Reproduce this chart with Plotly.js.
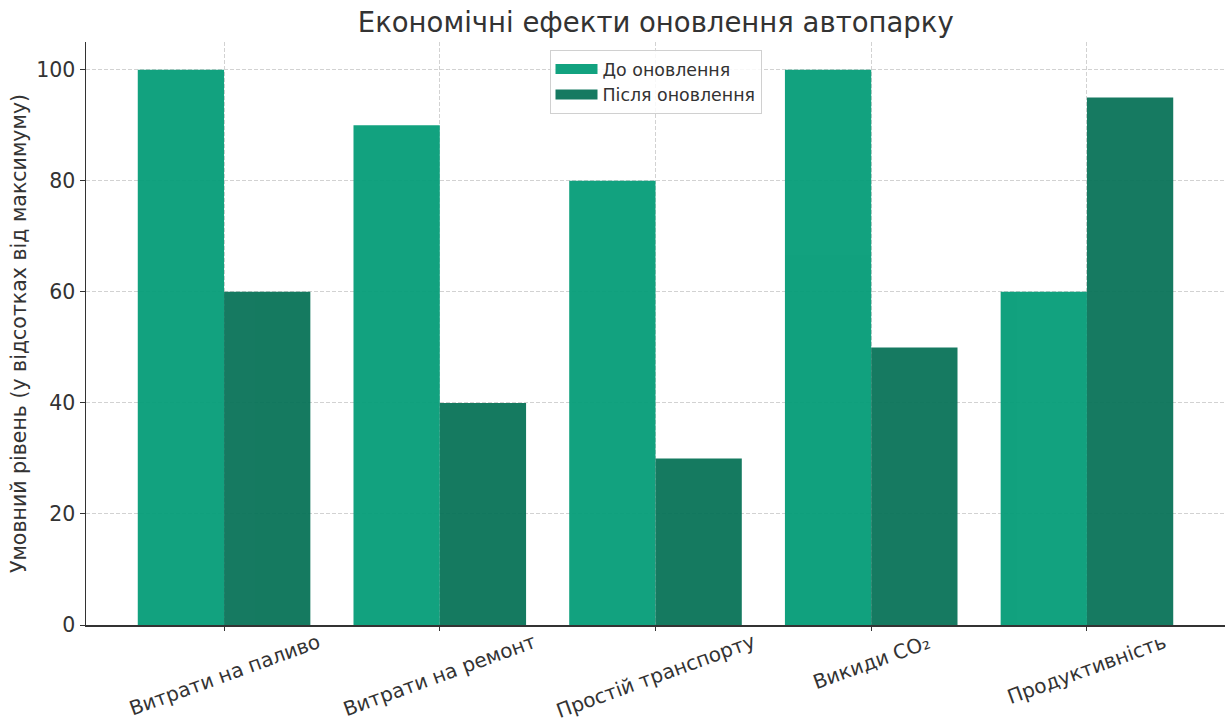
<!DOCTYPE html>
<html>
<head>
<meta charset="utf-8">
<script src="https://cdn.plot.ly/plotly-3.0.1.min.js"></script>
<style>html,body{margin:0;padding:0;background:#fff;}#chart{width:1228px;height:722px;}</style>
</head>
<body>
<div id="chart"></div>
<script>
const categories = ["Витрати на паливо", "Витрати на ремонт", "Простій транспорту", "Викиди CO₂", "Продуктивність"];
const beforeValues = [100, 90, 80, 100, 60];
const afterValues = [60, 40, 30, 50, 95];
const seriesNames = ["До оновлення", "Після оновлення"];
const yTicks = [0, 20, 40, 60, 80, 100];

const FONT = "DejaVu Sans, sans-serif";
const TXT = "#333333";
const C_BEFORE = "rgb(3,156,119)";
const C_AFTER = "rgb(7,114,87)";

const traces = [
  {type: "bar", x: categories, y: beforeValues, name: seriesNames[0], offset: -0.4, width: 0.4,
   opacity: 0.94, showlegend: false, marker: {color: C_BEFORE, line: {width: 0}}},
  {type: "bar", x: categories, y: afterValues, name: seriesNames[1], offset: 0, width: 0.4,
   opacity: 0.94, showlegend: false, marker: {color: C_AFTER, line: {width: 0}}},
  // legend entries (wide rectangle swatches)
  {type: "scatter", mode: "lines", x: [null], y: [null], name: seriesNames[0],
   opacity: 0.94, line: {color: C_BEFORE, width: 12}, hoverinfo: "skip"},
  {type: "scatter", mode: "lines", x: [null], y: [null], name: seriesNames[1],
   opacity: 0.94, line: {color: C_AFTER, width: 12}, hoverinfo: "skip"}
];

const annotations = categories.map(c => ({
  x: c, xref: "x", y: 0, yref: "paper", yshift: -3,
  text: c, showarrow: false, textangle: -20,
  xanchor: "center", yanchor: "top", borderpad: 0,
  font: {family: FONT, size: 20, color: TXT}
}));

const layout = {
  width: 1228, height: 722,
  margin: {l: 86, r: 3, t: 42, b: 97},
  paper_bgcolor: "#ffffff", plot_bgcolor: "#ffffff",
  font: {family: FONT, color: TXT},
  title: {text: "Економічні ефекти оновлення автопарку", x: 0.534, xanchor: "center",
          y: 0.9695, yanchor: "middle", yref: "container",
          font: {family: FONT, size: 27.5, color: TXT}},
  barmode: "group",
  showlegend: true,
  legend: {x: 0.5, xanchor: "center", y: 0.986, yanchor: "top",
           bgcolor: "rgba(255,255,255,0.85)", bordercolor: "#d0d0d0", borderwidth: 1,
           itemwidth: 42,
           font: {family: FONT, size: 17.4, color: TXT}, traceorder: "normal"},
  xaxis: {type: "category", range: [-0.64, 4.64],
          showgrid: true, gridcolor: "#d2d2d2", griddash: "4px,2px", gridwidth: 1,
          showline: true, linecolor: "#333333", linewidth: 1.5,
          ticks: "outside", ticklen: 4, tickcolor: "#333333",
          showticklabels: false, zeroline: false, fixedrange: true},
  yaxis: {range: [0, 105], tickvals: yTicks, ticktext: yTicks.map(String),
          showgrid: true, gridcolor: "#d2d2d2", griddash: "4px,2px", gridwidth: 1,
          showline: true, linecolor: "#333333", linewidth: 1.5,
          ticks: "outside", ticklen: 5, tickcolor: "#333333",
          tickfont: {family: FONT, size: 20.5, color: TXT},
          zeroline: false,
          title: {text: "Умовний рівень (у відсотках від максимуму)", standoff: 4,
                  font: {family: FONT, size: 20.5, color: TXT}}},
  annotations: annotations
};

Plotly.newPlot("chart", traces, layout, {displayModeBar: false, staticPlot: true});
</script>
</body>
</html>
